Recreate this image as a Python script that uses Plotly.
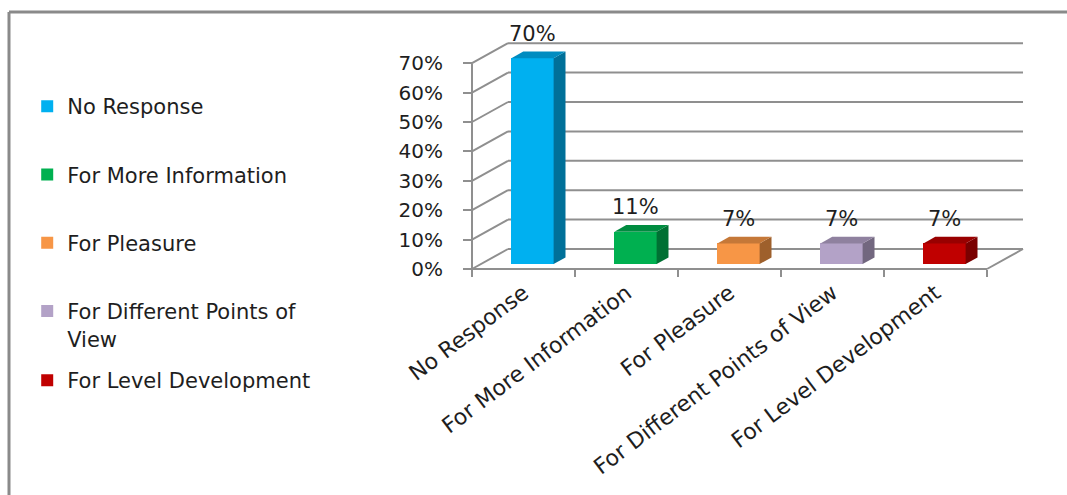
import plotly.graph_objects as go

# ---- data -------------------------------------------------------------
categories = [
    "No Response",
    "For More Information",
    "For Pleasure",
    "For Different Points of View",
    "For Level Development",
]
legend_names = [
    "No Response",
    "For More Information",
    "For Pleasure",
    "For Different Points of<br>View",
    "For Level Development",
]
percent_values = [70, 11, 7, 7, 7]
value_labels = ["70%", "11%", "7%", "7%", "7%"]
y_tick_values = [0, 10, 20, 30, 40, 50, 60, 70]
y_tick_labels = ["0%", "10%", "20%", "30%", "40%", "50%", "60%", "70%"]
bar_colors = ["#00B0F0", "#00B050", "#F79646", "#B3A2C7", "#C00000"]

# ---- page / plot geometry (pixels) -------------------------------------
W, H = 1067, 495
M_L, M_R, M_T, M_B = 462, 34, 22, 223
X0_PX, UX = 472, 103.0      # pixel of category origin, pixels per category
Y0_PX, UY = 269, 2.94       # pixel of 0 %, pixels per percent point

x_range = [(M_L - X0_PX) / UX, (W - M_R - X0_PX) / UX]
y_range = [-(H - M_B - Y0_PX) / UY, (Y0_PX - M_T) / UY]

# oblique depth of the 3-D box, in data units
DX = 36 / UX
DY = 20 / UY
BAR_W = 0.41
D_FRONT, D_BACK = 0.25, 0.58

GRID = "#8f8f8f"
TEXT = "#1e1e1e"
FONT = "DejaVu Sans"


def shade(hex_color, k):
    r, g, b = (int(hex_color[i:i + 2], 16) for i in (1, 3, 5))
    return "#%02x%02x%02x" % (int(r * k), int(g * k), int(b * k))


plot_w = W - M_L - M_R
plot_h = H - M_T - M_B


def paper_x(px):
    return (px - M_L) / plot_w


def paper_y(py):
    return (H - M_B - py) / plot_h


fig = go.Figure()
n = len(categories)
ddx = (D_BACK - D_FRONT) * DX
ddy = (D_BACK - D_FRONT) * DY

for i, (name, lname, v, col) in enumerate(zip(categories, legend_names, percent_values, bar_colors)):
    c = i + 0.5
    x0 = c - BAR_W / 2 + D_FRONT * DX
    x1 = x0 + BAR_W
    yb = D_FRONT * DY
    yt = v + yb
    # front face (the last entry sits in its own legend box so the spacing stays even)
    fig.add_trace(go.Bar(
        x=[c + D_FRONT * DX], y=[v], base=[yb], width=[BAR_W],
        marker=dict(color=col, line=dict(width=0)),
        name=lname, legendgroup=str(i), hovertext=[name], hoverinfo="text",
        legend="legend2" if i == n - 1 else "legend",
    ))
    # side face
    fig.add_trace(go.Scatter(
        x=[x1, x1, x1 + ddx, x1 + ddx, x1], y=[yb, yt, yt + ddy, yb + ddy, yb],
        mode="lines", fill="toself", fillcolor=shade(col, 0.64),
        line=dict(width=0, color=shade(col, 0.64)),
        showlegend=False, hoverinfo="skip", legendgroup=str(i),
    ))
    # top face
    fig.add_trace(go.Scatter(
        x=[x0, x1, x1 + ddx, x0 + ddx, x0], y=[yt, yt, yt + ddy, yt + ddy, yt],
        mode="lines", fill="toself", fillcolor=shade(col, 0.8),
        line=dict(width=0, color=shade(col, 0.8)),
        showlegend=False, hoverinfo="skip", legendgroup=str(i),
    ))
    fig.add_annotation(
        x=c + D_FRONT * DX, y=v + D_BACK * DY, text=value_labels[i],
        showarrow=False, yanchor="bottom", yshift=4,
        font=dict(family=FONT, size=21, color=TEXT),
    )

# back wall, side wall and floor of the 3-D frame
shapes = []
line = dict(color=GRID, width=2)
for v in y_tick_values:
    shapes.append(dict(type="line", xref="x", yref="y", x0=DX, y0=v + DY,
                       x1=n + DX, y1=v + DY, line=line, layer="below"))
    shapes.append(dict(type="line", xref="x", yref="y", x0=0, y0=v,
                       x1=DX, y1=v + DY, line=line, layer="below"))
shapes.append(dict(type="line", xref="x", yref="y", x0=n, y0=0,
                   x1=n + DX, y1=DY, line=line, layer="below"))
shapes.append(dict(type="line", xref="x", yref="y", x0=0, y0=0,
                   x1=n, y1=0, line=line, layer="below"))
shapes.append(dict(type="line", xref="x", yref="y", x0=0, y0=0,
                   x1=0, y1=y_tick_values[-1], line=line, layer="below"))
# chart-area border (left and top edges)
border = dict(color="#8a8a8a", width=3)
shapes.append(dict(type="line", xref="paper", yref="paper",
                   x0=paper_x(9), y0=paper_y(12), x1=paper_x(9), y1=paper_y(H), line=border))
shapes.append(dict(type="line", xref="paper", yref="paper",
                   x0=paper_x(9), y0=paper_y(12), x1=paper_x(W), y1=paper_y(12), line=border))

legend_style = dict(
    xref="container", yref="container", x=0.0255,
    xanchor="left", yanchor="top", maxheight=1.0,
    font=dict(family=FONT, size=21, color=TEXT),
    traceorder="grouped", tracegroupgap=38, valign="top",
    bgcolor="rgba(0,0,0,0)",
)

fig.update_layout(
    width=W, height=H, autosize=False,
    margin=dict(l=M_L, r=M_R, t=M_T, b=M_B, pad=0),
    paper_bgcolor="white", plot_bgcolor="white",
    barmode="overlay", bargap=0,
    shapes=shapes,
    font=dict(family=FONT, color=TEXT),
    legend=dict(legend_style, y=1 - 86 / H),
    legend2=dict(legend_style, y=1 - 360 / H),
    xaxis=dict(
        range=x_range, anchor="free", position=(0 - y_range[0]) / (y_range[1] - y_range[0]),
        tickmode="array", tickvals=[i + 0.5 for i in range(n)], ticktext=categories,
        tickangle=-37, ticks="", ticklabelstandoff=6,
        tickfont=dict(family=FONT, size=22, color=TEXT),
        minor=dict(tickmode="array", tickvals=list(range(n + 1)), ticks="outside",
                   ticklen=7, tickwidth=2, tickcolor=GRID, showgrid=False),
        showgrid=False, zeroline=False, showline=False, fixedrange=True,
    ),
    yaxis=dict(
        range=y_range, anchor="free", position=(0 - x_range[0]) / (x_range[1] - x_range[0]),
        tickmode="array", tickvals=y_tick_values, ticktext=y_tick_labels,
        ticks="outside", ticklen=9, tickwidth=2, tickcolor=GRID,
        ticklabelstandoff=16, tickfont=dict(family=FONT, size=20, color=TEXT),
        showgrid=False, zeroline=False, showline=False, fixedrange=True,
    ),
)

fig.write_html("out.html")
